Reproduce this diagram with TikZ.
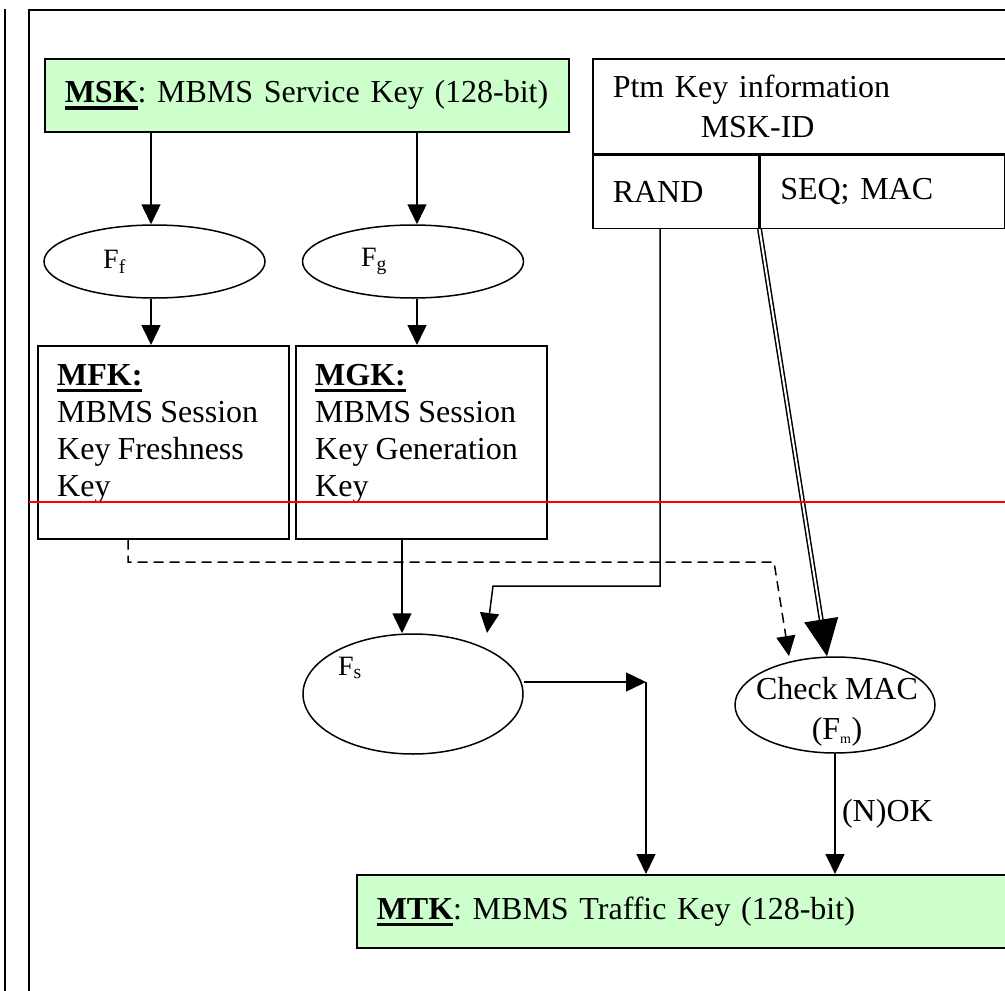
\documentclass[tikz,border=0pt]{standalone}
\usepackage{fontspec}
\setmainfont{Liberation Serif}[WordSpace=0.9]
\usepackage{tikz}
\usetikzlibrary{arrows.meta,positioning,calc,shapes.geometric}
\definecolor{keygreen}{HTML}{CCFFCC}
\newcommand{\keyname}[1]{\setbox0\hbox{\textbf{#1}}\rlap{\rule[-7pt]{\wd0}{3.5pt}}\box0}
\frenchspacing

\begin{document}
\begin{tikzpicture}[x=1pt,y=-1pt]
\tikzset{every node/.style={font=\fontsize{32}{37}\selectfont}}
\tikzset{keybox/.style={draw,line width=1.5pt,fill=keygreen,anchor=north west,
minimum height=73pt,inner xsep=20pt,align=left}}
\tikzset{textbox/.style={draw,line width=1.5pt,fill=white,anchor=north west,
minimum width=251pt,minimum height=193pt}}
\tikzset{boxtext/.style={anchor=north west,align=left,inner sep=0pt,xshift=20pt,yshift=-19pt}}
\tikzset{cell/.style={draw,line width=1.5pt,anchor=north west,inner xsep=20pt,align=left}}
\tikzset{func/.style={draw,ellipse,line width=1.5pt}}
\tikzset{fname/.style={font=\fontsize{28}{32}\selectfont}}
\tikzset{flow/.style={line width=1.5pt,-{Triangle[length=20pt,width=19pt]}}}
\useasboundingbox (0,0) rectangle (1005,991);
% frame
\draw[line width=2.2pt] (5,9) -- (5,995);
\draw[line width=2.2pt] (29,995) -- (29,10) -- (1010,10);
% keys and functions
\node[keybox,text width=484pt] (msk) at (44,58) {\keyname{MSK}: MBMS Service Key (128-bit)};
\node[func,minimum width=221pt,minimum height=73pt,
  label={[fname,xshift=-40pt]center:F\textsubscript{f}}] (ff) at (154.5,261.5) {};
\node[func,minimum width=221pt,minimum height=73pt,
  label={[fname,xshift=-39pt]center:F\textsubscript{g}}] (fg) at (413,261.5) {};
\node[textbox,label={[boxtext]north west:{\keyname{MFK:}\\MBMS Session\\Key Freshness\\Key}}] (mfk) at (37,345) {};
\node[textbox,label={[boxtext]north west:{\keyname{MGK:}\\MBMS Session\\Key Generation\\Key}}] (mgk) at (295,345) {};
\node[cell,text width=390pt,minimum height=95pt,font=\fontsize{32}{40}\selectfont] (ptm) at (592,58)
  {Ptm Key information\\\hspace*{88pt}MSK-ID};
\node[cell,text width=126pt,minimum height=73pt] (rand) at (ptm.south west) {RAND};
\node[cell,text width=204pt,minimum height=73pt] (seqmac) at (rand.north east) {SEQ; MAC};
\node[func,minimum width=220pt,minimum height=120pt,
  label={[fname,xshift=-63pt,yshift=26pt]center:F\textsubscript{s}}] (fs) at (413,694) {};
\node[func,minimum width=200pt,minimum height=96pt,
  label={[align=center,font=\fontsize{32}{40}\selectfont,xshift=2pt,yshift=-7pt]center:{Check MAC\\(F\textsubscript{\fontsize{14}{14}\selectfont m})}}] (mac) at (835,705) {};
\node[keybox,text width=640pt] (mtk) at (356,874) {\keyname{MTK}: MBMS Traffic Key (128-bit)};
% routing points
\coordinate (colF) at (151,0);
\coordinate (colG) at (417,0);
\coordinate (colS) at (402,0);
\coordinate (colR) at (660,0);
\coordinate (colD) at (128,0);
\coordinate (randbend) at (493,586);
\coordinate (randend) at (487,633);
\coordinate (dashbend) at (774,562);
\coordinate (dashend) at (789,656);
\coordinate (split) at (646,682);
% connectors
\draw[flow] (msk.south -| colF) -- (ff.north -| colF);
\draw[flow] (msk.south -| colG) -- (fg.north -| colG);
\draw[flow] (ff.south -| colF) -- (mfk.north -| colF);
\draw[flow] (fg.south -| colG) -- (mgk.north -| colG);
\draw[flow] (mgk.south -| colS) -- (fs.north -| colS);
\draw[flow] (rand.south -| colR) |- (randbend) -- (randend);
\draw[flow,dash pattern=on 10pt off 6pt] (mfk.south -| colD) |- (dashbend) -- (dashend);
\draw[line width=1.5pt,double,double distance=2pt,-{Triangle[length=37pt,width=34pt]}]
  (rand.south east) -- ([xshift=-8pt]mac.north);
\draw[flow] (fs.east |- split) -- (split);
\draw[flow] (split) -- (split |- mtk.north);
\draw[flow] (mac.south) -- (mac.south |- mtk.north) node[midway,right=3pt] {(N)OK};
\draw[red,line width=2pt] (29,502) -- (1010,502);
\end{tikzpicture}
\end{document}
